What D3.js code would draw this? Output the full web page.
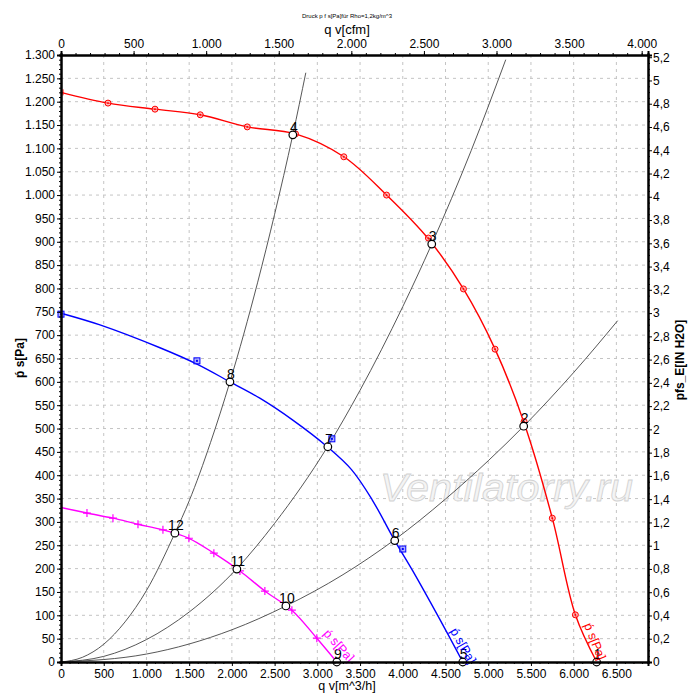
<!DOCTYPE html>
<html><head><meta charset="utf-8">
<script src="https://cdn.jsdelivr.net/npm/d3@7/dist/d3.min.js"></script>
<style>
html,body{margin:0;padding:0;background:#fff;}
svg{display:block;font-family:"Liberation Sans",Arial,sans-serif;}
</style></head>
<body><svg id="c" width="700" height="700"></svg>
<script>
// ---- data ----
const redQ = [0, 550, 1100, 1630, 2180, 2745, 3310, 3810, 4300, 4710, 5080, 5420, 5750, 6020, 6270];
const redP = [1220, 1197, 1184, 1172, 1146, 1131, 1082, 1000, 906, 799, 670, 512, 308, 101, 0];
const redMarkQ = [550, 1100, 1630, 2180, 2745, 3310, 3810, 4300, 4710, 5080, 5420, 5750, 6020];
const redMarkP = [1197, 1184, 1172, 1146, 1131, 1082, 1000, 908, 799, 670, 515, 308, 101];

const blueQ = [0, 456, 1158, 1591, 1977, 2327, 2713, 3123, 3400, 3640, 3906, 4117, 4491, 4702];
const blueP = [747, 722, 673, 638, 600, 565, 518, 460, 412, 348, 260, 195, 72, 0];
const blueMarkQ = [0, 1591, 3170, 4000];
const blueMarkP = [745, 645, 478, 242];

const magQ = [0, 304, 608, 901, 1193, 1497, 1789, 2094, 2386, 2702, 2994, 3228];
const magP = [331, 319, 308, 295, 283, 265, 233, 195, 152, 111, 51, 0];
const magMarkQ = [304, 608, 901, 1193, 1497, 1789, 2094, 2386, 2702, 2994];
const magMarkP = [319, 308, 295, 283, 265, 233, 195, 152, 111, 51];

const sysAQ = [0, 250, 500, 750, 1000, 1333, 1500, 1750, 1977, 2300, 2500, 2713, 2865];
const sysAP = [0, 10, 38, 86, 153, 276, 345, 470, 600, 812, 959, 1129, 1262];
const sysBQ = [0, 500, 1000, 1500, 2058, 2500, 3123, 3500, 4000, 4339, 4800, 5205];
const sysBP = [0, 12, 48, 107, 200, 297, 462, 582, 761, 895, 1095, 1290];
const sysCQ = [0, 1000, 2000, 2632, 3300, 3906, 4500, 5000, 5415, 6000, 6515];
const sysCP = [0, 17, 69, 120, 187, 262, 349, 431, 505, 620, 731];

const opId = [1, 2, 3, 4, 5, 6, 7, 8, 9, 10, 11, 12];
const opQ = [6269, 5415, 4339, 2713, 4702, 3906, 3123, 1977, 3228, 2632, 2058, 1333];
const opP = [0, 505, 895, 1129, 0, 260, 461, 600, 0, 120, 199, 276];

const xTicks = [0, 500, 1000, 1500, 2000, 2500, 3000, 3500, 4000, 4500, 5000, 5500, 6000, 6500];
const cfmTicks = [0, 500, 1000, 1500, 2000, 2500, 3000, 3500, 4000];
const yTicks = d3.range(0, 1301, 50);
const inTicks = d3.range(0, 5.21, 0.2);

const curveLabel = "ṕ s[Pa]";
const titleText = "Druck p f s[Pa]für Rho=1,2kg/m^3";
const xTitle = "q v[m^3/h]";
const cfmTitle = "q v[cfm]";
const yTitle = "ṕ s[Pa]";
const y2Title = "pfs_E[IN H2O]";
const watermark = "Ventilatorry.ru";

// ---- layout ----
const L = 61, R = 648, T = 55, B = 662;
const QMAX = 6870, PMAX = 1300;
const CFM = 1.699, INH2O = 249.089;

const svg = d3.select("#c");
const x = d3.scaleLinear().domain([0, QMAX]).range([L, R]);
const xc = d3.scaleLinear().domain([0, QMAX / CFM]).range([L, R]);
const y = d3.scaleLinear().domain([0, PMAX]).range([B, T]);
const y2 = d3.scaleLinear().domain([0, PMAX / INH2O]).range([B, T]);

const loc = d3.formatLocale({decimal: ",", thousands: ".", grouping: [3], currency: ["", ""]});
const fThou = loc.format(",");
const fIn = v => { const r = Math.round(v * 10) / 10; return String(r).replace(".", ","); };

// grid
const grid = svg.append("g").attr("stroke", "#c4c4c4").attr("stroke-width", 1).attr("stroke-dasharray", "3,4");
xTicks.filter(v => v > 0).forEach(v => grid.append("line").attr("x1", x(v)).attr("x2", x(v)).attr("y1", T).attr("y2", B));
yTicks.filter(v => v > 0 && v < PMAX).forEach(v => grid.append("line").attr("x1", L).attr("x2", R).attr("y1", y(v)).attr("y2", y(v)));

// watermark
svg.append("text").attr("x", 380).attr("y", 501).attr("font-size", 38).attr("font-style", "italic")
  .attr("textLength", 253).attr("lengthAdjust", "spacingAndGlyphs")
  .attr("fill", "#f4f4f4").attr("stroke", "#d2d2d2").attr("stroke-width", 0.8).text(watermark);

const line = d3.line().x(d => x(d[0])).y(d => y(d[1])).curve(d3.curveMonotoneX);
const fanLine = d3.line().x(d => x(d[0])).y(d => y(d[1])).curve(d3.curveCatmullRom.alpha(0.5));
const zip = (a, b) => a.map((v, i) => [v, b[i]]);

// system curves
[[sysAQ, sysAP], [sysBQ, sysBP], [sysCQ, sysCP]].forEach(([q, p]) => {
  svg.append("path").attr("d", line(zip(q, p))).attr("fill", "none").attr("stroke", "#444").attr("stroke-width", 0.9);
});

// fan curves
svg.append("path").attr("d", fanLine(zip(magQ, magP))).attr("fill", "none").attr("stroke", "#ff00ff").attr("stroke-width", 1.4);
svg.append("path").attr("d", fanLine(zip(blueQ, blueP))).attr("fill", "none").attr("stroke", "#0000ff").attr("stroke-width", 1.4);
svg.append("path").attr("d", fanLine(zip(redQ, redP))).attr("fill", "none").attr("stroke", "#ff0000").attr("stroke-width", 1.4);

// markers
zip(redMarkQ, redMarkP).forEach(d => {
  svg.append("circle").attr("cx", x(d[0])).attr("cy", y(d[1])).attr("r", 3).attr("fill", "#ff9090").attr("fill-opacity", 0.6).attr("stroke", "#ff0000").attr("stroke-width", 1);
  svg.append("circle").attr("cx", x(d[0])).attr("cy", y(d[1])).attr("r", 0.9).attr("fill", "#ff0000");
});
svg.append("line").attr("x1", x(0) + 2).attr("x2", x(0) + 2).attr("y1", y(redP[0]) - 3).attr("y2", y(redP[0]) + 3).attr("stroke", "#ff0000");
zip(blueMarkQ, blueMarkP).forEach(d => {
  svg.append("rect").attr("x", x(d[0]) - 3).attr("y", y(d[1]) - 3).attr("width", 6).attr("height", 6)
    .attr("fill", "#8080ff").attr("fill-opacity", 0.6).attr("stroke", "#0000ff").attr("stroke-width", 1);
  svg.append("rect").attr("x", x(d[0]) - 1).attr("y", y(d[1]) - 1).attr("width", 2).attr("height", 2).attr("fill", "#0000ff");
});
zip(magMarkQ, magMarkP).forEach(d => {
  const cx = x(d[0]), cy = y(d[1]);
  svg.append("path").attr("d", `M${cx - 4},${cy}H${cx + 4}M${cx},${cy - 4}V${cy + 4}`).attr("stroke", "#ff00ff").attr("stroke-width", 1.2);
});

// operating points
opId.forEach((id, i) => {
  const cx = x(opQ[i]), cy = y(opP[i]);
  svg.append("circle").attr("cx", cx).attr("cy", cy).attr("r", 3.8).attr("fill", "#fff").attr("stroke", "#000").attr("stroke-width", 1.2);
  svg.append("text").attr("x", cx + 1).attr("y", cy - 3).attr("text-anchor", "middle").attr("font-size", 14).attr("fill", "#000").text(id);
});

// curve labels (placed beside the last segment of each fan curve, offsets in px)
[[magQ, magP, "#ff00ff", 48, -14, -28], [blueQ, blueP, "#0000ff", 60, -13, -31], [redQ, redP, "#ff0000", 68, -13, -37]].forEach(([q, p, c, ang, dx, dy]) => {
  const n = q.length - 1;
  const lx = x(q[n]) + dx, ly = y(p[n]) + dy;
  svg.append("text").attr("transform", `translate(${lx},${ly}) rotate(${ang})`).attr("font-size", 12.5).attr("fill", c).text(curveLabel);
});

// axes
function styleAxis(g) {
  g.select(".domain").attr("stroke", "#000").attr("stroke-width", 2);
  g.selectAll(".tick line").attr("stroke", "#000");
  g.selectAll("text").attr("font-size", 12).attr("fill", "#000").attr("font-family", "\"Liberation Sans\",Arial,sans-serif");
}
// minor ticks
svg.append("g").attr("transform", `translate(0,${B})`).call(d3.axisBottom(x).tickValues(d3.range(0, QMAX, 100)).tickSize(2).tickFormat("")).call(styleAxis);
svg.append("g").attr("transform", `translate(0,${T})`).call(d3.axisTop(xc).tickValues(d3.range(0, QMAX / CFM, 100)).tickSize(2).tickFormat("")).call(styleAxis);
svg.append("g").attr("transform", `translate(${L},0)`).call(d3.axisLeft(y).tickValues(d3.range(0, PMAX + 1, 10)).tickSize(2).tickFormat("")).call(styleAxis);
svg.append("g").attr("transform", `translate(${R},0)`).call(d3.axisRight(y2).tickValues(d3.range(0, 5.21, 0.05)).tickSize(2).tickFormat("")).call(styleAxis);
// major
svg.append("g").attr("transform", `translate(0,${B})`).call(d3.axisBottom(x).tickValues(xTicks).tickSize(4).tickPadding(3).tickFormat(fThou)).call(styleAxis);
svg.append("g").attr("transform", `translate(0,${T})`).call(d3.axisTop(xc).tickValues(cfmTicks).tickSize(4).tickPadding(3).tickFormat(fThou)).call(styleAxis);
svg.append("g").attr("transform", `translate(${L},0)`).call(d3.axisLeft(y).tickValues(yTicks).tickSize(4).tickPadding(2).tickFormat(fThou)).call(styleAxis);
svg.append("g").attr("transform", `translate(${R},0)`).call(d3.axisRight(y2).tickValues(inTicks).tickSize(4).tickPadding(1).tickFormat(fIn)).call(styleAxis);

// titles
svg.append("text").attr("x", 347).attr("y", 18).attr("text-anchor", "middle").attr("font-size", 6).text(titleText);
svg.append("text").attr("x", 347).attr("y", 34).attr("text-anchor", "middle").attr("font-size", 13).text(cfmTitle);
svg.append("text").attr("x", 347).attr("y", 690).attr("text-anchor", "middle").attr("font-size", 12.5).text(xTitle);
svg.append("text").attr("transform", "translate(24,358) rotate(-90)").attr("text-anchor", "middle").attr("font-size", 12).attr("font-weight", "bold").text(yTitle);
svg.append("text").attr("transform", "translate(684,360) rotate(-90)").attr("text-anchor", "middle").attr("font-size", 12).attr("font-weight", "bold").text(y2Title);
</script></body></html>
